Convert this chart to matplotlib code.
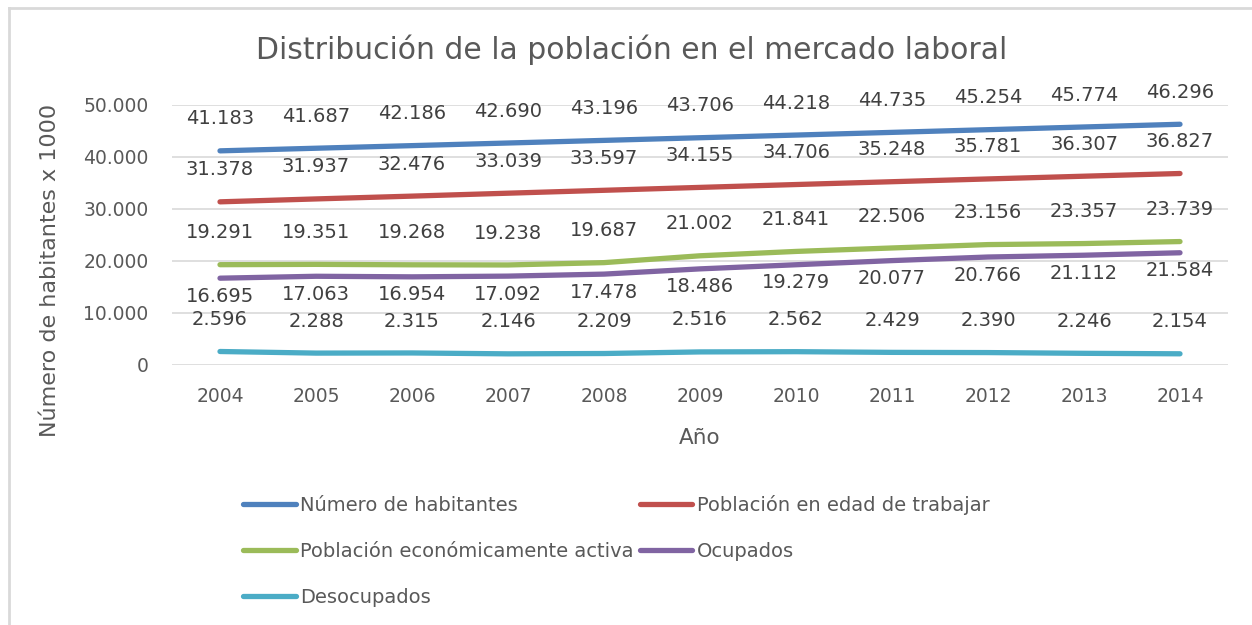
import numpy as np
import matplotlib.pyplot as plt
from matplotlib.lines import Line2D

years = ['2004', '2005', '2006', '2007', '2008', '2009', '2010', '2011', '2012', '2013', '2014']

habitantes = [41183, 41687, 42186, 42690, 43196, 43706, 44218, 44735, 45254, 45774, 46296]
edad_trabajar = [31378, 31937, 32476, 33039, 33597, 34155, 34706, 35248, 35781, 36307, 36827]
pea = [19291, 19351, 19268, 19238, 19687, 21002, 21841, 22506, 23156, 23357, 23739]
ocupados = [16695, 17063, 16954, 17092, 17478, 18486, 19279, 20077, 20766, 21112, 21584]
desocupados = [2596, 2288, 2315, 2146, 2209, 2516, 2562, 2429, 2390, 2246, 2154]

series_names = ['Número de habitantes', 'Población en edad de trabajar',
                'Población económicamente activa', 'Ocupados', 'Desocupados']

colors = ['#4F81BD', '#C0504D', '#9BBB59', '#8064A2', '#4BACC6']
# label offset in points (up +, down -)
offsets = [23, 23, 23, -13, 23]

plt.rcParams['font.family'] = ['DejaVu Sans']
txt = '#595959'

fig = plt.figure(figsize=(12.52, 6.25), dpi=100)
ax = fig.add_axes([172 / 1252, 1 - 365 / 625, (1228 - 172) / 1252, (365 - 105) / 625])

x = np.arange(len(years))
all_series = [habitantes, edad_trabajar, pea, ocupados, desocupados]
handles = []
for vals, name, c, off in zip(all_series, series_names, colors, offsets):
    h, = ax.plot(x, vals, color=c, lw=3.8, solid_capstyle='round', label=name, zorder=3)
    handles.append(h)
    for xi, v in zip(x, vals):
        lab = f'{v:,}'.replace(',', '.')
        ax.annotate(lab, (xi, v), xytext=(0, off), textcoords='offset points',
                    ha='center', va='center', fontsize=14, color='#404040')

ax.set_xlim(-0.5, len(years) - 0.5)
ax.set_ylim(0, 50000)
ax.set_yticks(np.arange(0, 50001, 10000))
ax.set_yticklabels(['0' if t == 0 else f'{t:,}'.replace(',', '.') for t in range(0, 50001, 10000)])
ax.set_xticks(x)
ax.set_xticklabels(years)
ax.grid(axis='y', color='#D9D9D9', lw=1.2)
ax.set_axisbelow(True)
for s in ax.spines.values():
    s.set_visible(False)
ax.tick_params(axis='x', length=0, labelsize=13.5, colors=txt, pad=16)
ax.tick_params(axis='y', length=0, labelsize=13.5, colors=txt, pad=17)

ax.set_xlabel('Año', fontsize=15.5, color=txt, labelpad=16)
ax.set_ylabel('Número de habitantes x 1000', fontsize=16, color=txt)
ax.yaxis.set_label_coords(-0.106, 0.365)

fig.text(632 / 1252, 1 - 50 / 625, 'Distribución de la población en el mercado laboral',
         ha='center', va='center', fontsize=21.5, color=txt)

order = [0, 2, 4, 1, 3]
leg = fig.legend([handles[i] for i in order], [series_names[i] for i in order],
                 ncol=2, loc='upper left', bbox_to_anchor=(243 / 1252, 1 - 495 / 625),
                 frameon=False, fontsize=14, handlelength=2.7, handletextpad=0.25,
                 columnspacing=0.3, labelspacing=1.38, borderpad=0, borderaxespad=0)
for t in leg.get_texts():
    t.set_color(txt)

fig.add_artist(Line2D([9 / 1252, 1], [1 - 8 / 625, 1 - 8 / 625], transform=fig.transFigure,
                      color='#D9D9D9', lw=2))
fig.add_artist(Line2D([9 / 1252, 9 / 1252], [0, 1 - 8 / 625], transform=fig.transFigure,
                      color='#D9D9D9', lw=2))

fig.savefig('out.png', dpi=100)
